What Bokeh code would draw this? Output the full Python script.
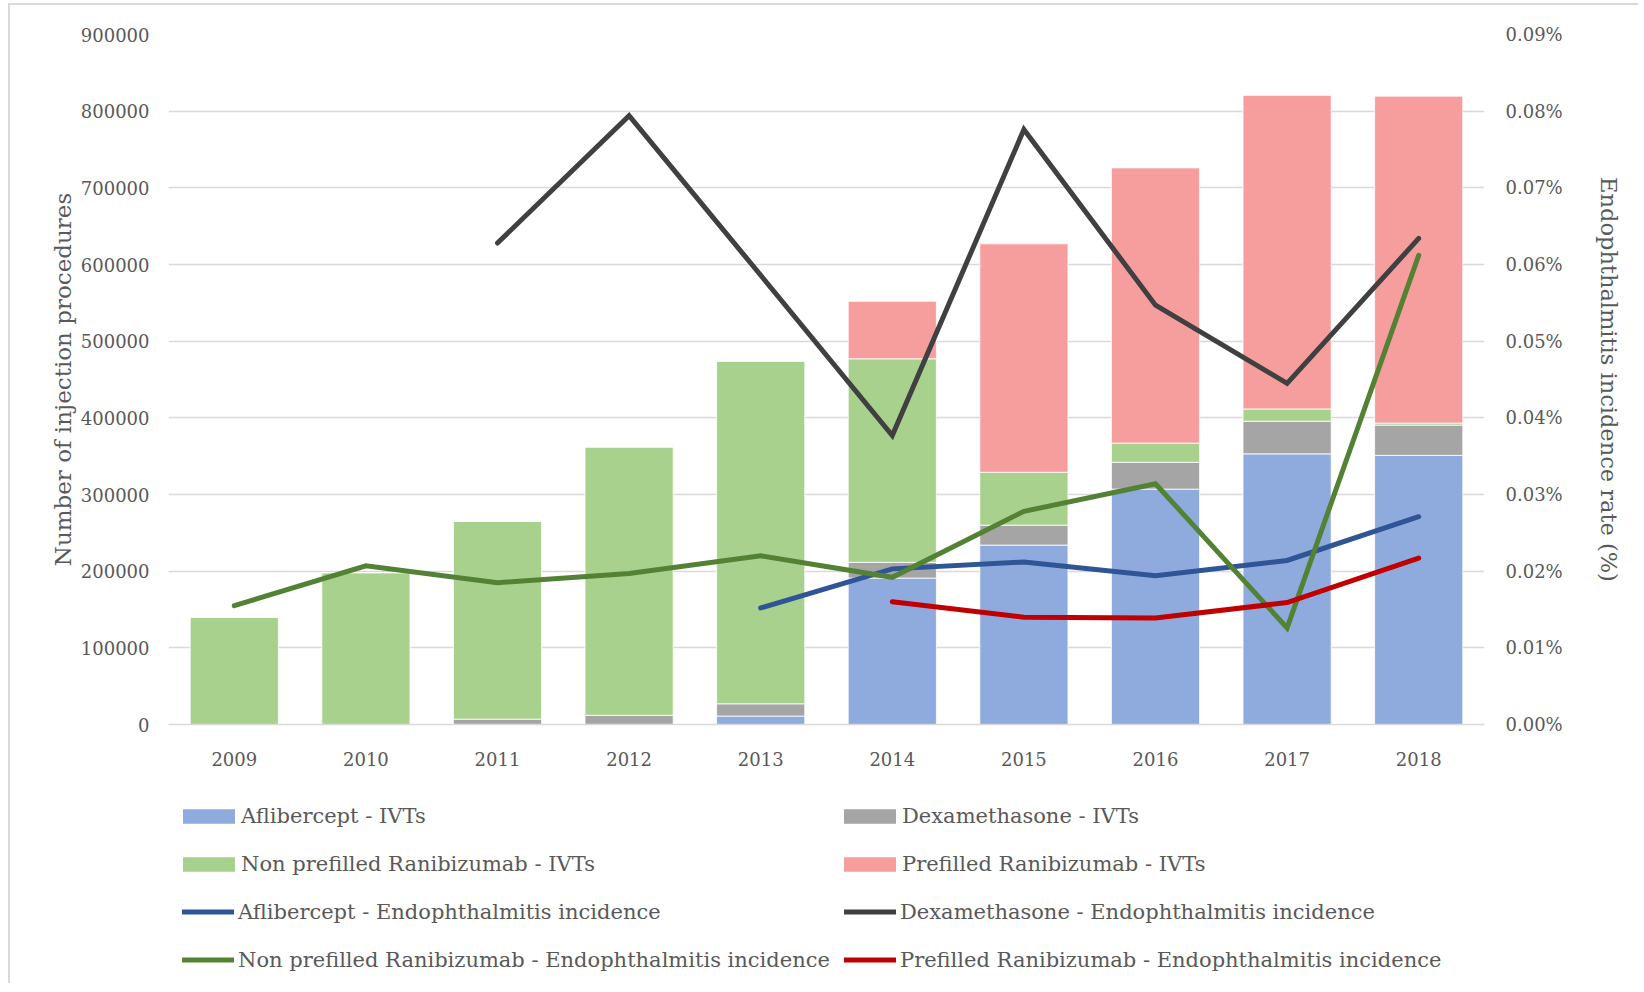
from bokeh.plotting import figure
from bokeh.layouts import column
from bokeh.models import (Range1d, LinearAxis, FixedTicker, PrintfTickFormatter,
                          BasicTickFormatter, Legend, LegendItem, ColumnDataSource)
from bokeh.embed import file_html
from bokeh.resources import INLINE

years = ["2009", "2010", "2011", "2012", "2013", "2014", "2015", "2016", "2017", "2018"]

# Number of injection procedures (stacked bars)
aflibercept_ivt = [0, 0, 0, 0, 11000, 191000, 234000, 307000, 353000, 351000]
dexamethasone_ivt = [0, 0, 7000, 12000, 16000, 20500, 26000, 35000, 42600, 39500]
nonprefilled_ivt = [140000, 198000, 258000, 350000, 447000, 265500, 69000, 25000, 16000, 2600]
prefilled_ivt = [0, 0, 0, 0, 0, 75000, 298000, 359000, 409000, 426500]

# Endophthalmitis incidence rate (%)
nan = float("nan")
aflibercept_rate = [nan, nan, nan, nan, 0.0152, 0.0203, 0.0212, 0.0194, 0.0214, 0.0271]
dexamethasone_rate = [nan, nan, 0.0628, 0.0794, 0.0586, 0.0377, 0.0776, 0.0547, 0.0445, 0.0634]
nonprefilled_rate = [0.0155, 0.0207, 0.0185, 0.0197, 0.0220, 0.0192, 0.0278, 0.0314, 0.0126, 0.0612]
prefilled_rate = [nan, nan, nan, nan, nan, 0.0160, 0.0140, 0.0139, 0.0159, 0.0217]

left_ticks = [0, 100000, 200000, 300000, 400000, 500000, 600000, 700000, 800000, 900000]
right_ticks = [0.0, 0.01, 0.02, 0.03, 0.04, 0.05, 0.06, 0.07, 0.08, 0.09]

bar_names = ["Aflibercept - IVTs", "Dexamethasone - IVTs",
             "Non prefilled Ranibizumab - IVTs", "Prefilled Ranibizumab - IVTs"]
bar_colors = ["#8FAADC", "#A5A5A5", "#A9D18E", "#F69E9E"]
line_names = ["Aflibercept - Endophthalmitis incidence", "Dexamethasone - Endophthalmitis incidence",
              "Non prefilled Ranibizumab - Endophthalmitis incidence",
              "Prefilled Ranibizumab - Endophthalmitis incidence"]
line_colors = ["#2F5597", "#404040", "#548235", "#C00000"]

FONT = "DejaVu Serif"
TXT = "#595959"
BORDER = "2px solid #D9D9D9"

src = ColumnDataSource(dict(years=years, afl=aflibercept_ivt, dex=dexamethasone_ivt,
                            nonpf=nonprefilled_ivt, pf=prefilled_ivt))

# ---------------- main chart ----------------
p = figure(x_range=years, y_range=Range1d(0, 900000), width=1630, height=780,
           output_backend="svg", toolbar_location=None,
           min_border_left=158, min_border_right=156, min_border_top=29, min_border_bottom=61)
p.styles = {"border-left": BORDER, "border-top": BORDER}
p.outline_line_color = None
p.extra_y_ranges = {"rate": Range1d(0, 0.09)}

bars = p.vbar_stack(["afl", "dex", "nonpf", "pf"], x="years", width=0.67, source=src,
                    color=bar_colors, line_color="white", line_width=0.8)

line_data = [aflibercept_rate, dexamethasone_rate, nonprefilled_rate, prefilled_rate]
for vals, col in zip(line_data, line_colors):
    p.line(years, vals, line_color=col, line_width=5, y_range_name="rate",
           line_join="miter", line_cap="round")

p.yaxis.ticker = FixedTicker(ticks=left_ticks)
p.yaxis.formatter = BasicTickFormatter(use_scientific=False)
p.yaxis.axis_label = "Number of injection procedures"
p.ygrid.ticker = FixedTicker(ticks=left_ticks)
p.ygrid.grid_line_color = "#D9D9D9"
p.ygrid.grid_line_width = 1.5
p.xgrid.grid_line_color = None

ax_r = LinearAxis(y_range_name="rate", ticker=FixedTicker(ticks=right_ticks),
                  formatter=PrintfTickFormatter(format="%.2f%%"),
                  axis_label="Endophthalmitis incidence rate (%)")
p.add_layout(ax_r, "right")

for ax in [p.yaxis[0], ax_r]:
    ax.axis_line_color = None
    ax.major_tick_line_color = None
    ax.minor_tick_line_color = None
    ax.major_tick_out = 0
    ax.minor_tick_out = 0
    ax.major_label_text_font = FONT
    ax.major_label_text_font_size = "18px"
    ax.major_label_text_color = TXT
    ax.axis_label_text_font = FONT
    ax.axis_label_text_font_size = "23px"
    ax.axis_label_text_font_style = "normal"
    ax.axis_label_text_color = TXT
ax_r.axis_label_text_font_size = "22.5px"
p.yaxis[0].major_label_standoff = 19
p.yaxis[0].axis_label_standoff = 2
ax_r.major_label_standoff = 21
ax_r.axis_label_standoff = 30

p.xaxis.axis_line_color = "#D9D9D9"
p.xaxis.axis_line_width = 1.5
p.xaxis.major_tick_line_color = None
p.xaxis.minor_tick_line_color = None
p.xaxis.major_tick_out = 0
p.xaxis.minor_tick_out = 0
p.xaxis.major_label_text_font = FONT
p.xaxis.major_label_text_font_size = "18px"
p.xaxis.major_label_text_color = TXT
p.xaxis.major_label_standoff = 27

# ---------------- legend panel ----------------
q = figure(width=1630, height=200, x_range=Range1d(0, 1), y_range=Range1d(0, 1),
           output_backend="svg", toolbar_location=None,
           x_axis_location=None, y_axis_location=None, min_border=0)
q.styles = {"border-left": BORDER}
q.outline_line_color = None
q.grid.visible = False

def bar_swatch(color):
    return q.vbar(x=[-10], top=[-5], bottom=[-6], width=1, fill_color=color, line_color=None)

def line_swatch(color):
    return q.line(x=[-10, -9], y=[-10, -10], line_color=color, line_width=5, line_cap="round")

groups = [
    # (items, x, y, glyph_width, glyph_height, standoff)
    ([LegendItem(label=bar_names[0], renderers=[bar_swatch(bar_colors[0])]),
      LegendItem(label=bar_names[2], renderers=[bar_swatch(bar_colors[2])])], 8, 107, 65, 18, 0),
    ([LegendItem(label=bar_names[1], renderers=[bar_swatch(bar_colors[1])]),
      LegendItem(label=bar_names[3], renderers=[bar_swatch(bar_colors[3])])], 669, 107, 65, 18, 0),
    ([LegendItem(label=line_names[0], renderers=[line_swatch(line_colors[0])]),
      LegendItem(label=line_names[2], renderers=[line_swatch(line_colors[2])])], 14, 11, 52, 15, 4),
    ([LegendItem(label=line_names[1], renderers=[line_swatch(line_colors[1])]),
      LegendItem(label=line_names[3], renderers=[line_swatch(line_colors[3])])], 676, 11, 52, 15, 4),
]

for items, xloc, yloc, gw, gh, so in groups:
    lg = Legend(items=items, orientation="vertical", location=(xloc, yloc),
                padding=0, margin=0, spacing=23, label_standoff=so,
                glyph_width=gw, glyph_height=gh, label_height=25,
                label_text_font=FONT, label_text_font_size="21px", label_text_color=TXT,
                border_line_color=None, background_fill_alpha=0)
    q.add_layout(lg, "center")

layout = column(p, q, spacing=0)
layout.styles = {"margin-left": "8px", "margin-top": "3px"}

open("out.html", "w").write(file_html(layout, INLINE))
